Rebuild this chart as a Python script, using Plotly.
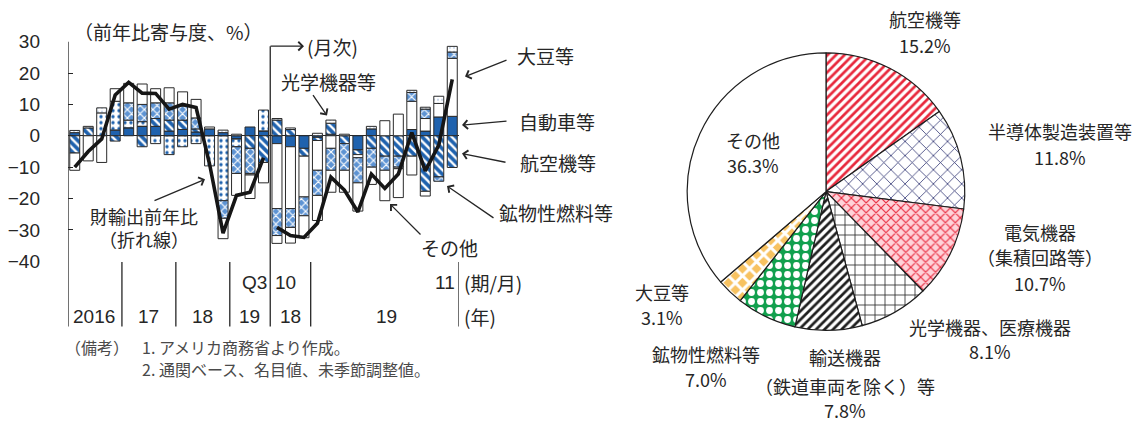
import plotly.graph_objects as go

W, H = 1144, 426


def px(x):
    return x / W


def py(y):
    return 1 - y / H


# ---------------- data: contributions to US goods exports (y/y, %pt) ----------------
periods = ["2016Q1", "2016Q2", "2016Q3", "2016Q4", "2017Q1", "2017Q2", "2017Q3", "2017Q4",
           "2018Q1", "2018Q2", "2018Q3", "2018Q4", "2019Q1", "2019Q2", "2019Q3",
           "2018-10", "2018-11", "2018-12", "2019-01", "2019-02", "2019-03", "2019-04",
           "2019-05", "2019-06", "2019-07", "2019-08", "2019-09", "2019-10", "2019-11"]
n_quarters = 15

autos = [1.0, 0, 0, 1.8, 2.5, 3.0, 3.0, 1.5, 2.0, 1.2, 2.2, 1.0, -1.0, 2.8, 1.5,
         -2.5, -3.5, -4.0, -0.5, 0.5, 0, -4.5, 2.2, 0, 0, 2.0, 1.5, 6.0, 6.2]
aircraft = [-5.5, 2.5, 0, -1.7, 0, -3.5, 2.5, 3.5, 3.0, 1.0, 0, 0, 0, -4.0, -8.5,
            5.0, 2.0, -2.5, -1.0, 3.5, -2.5, -1.5, -4.0, -6.5, -6.5, -6.5, -17.7, -13.1, -10.1]
soybeans = [0, 0, 7.3, 9.2, 2.5, 1.5, -2.5, -6.0, -3.5, -2.5, -9.6, -20.7, -2.5, 0, 6.7,
            -20.7, -19.7, -13.0, -9.5, -4.0, 0, -1.0, 0, 4.8, 6.9, 9.0, 4.0, 4.3, 18.5]
fuels = [0, 0, 0, 0, 5.5, 5.5, 5.0, 5.5, 4.5, 3.5, 0, -5.6, -8.5, -8.0, 0,
         -8.6, -6.0, -6.0, -8.0, -7.0, -8.5, -8.0, -6.0, -4.5, -3.5, 2.8, 3.0, -1.4, 2.0]
optical = [0.7, 0.5, 1.6, 0, 0, 0, 0, 0, 0, 0, 0, 0.8, 0.5, -0.5, 0,
           0.5, 0.5, 0, 0.8, 1.0, 0.5, 0, 0.8, 0, -0.5, 0.7, 0.6, 2.3, 1.8]
others = [-5.5, -8.0, -8.5, 4.0, 6.2, 6.5, 4.5, 4.8, 4.5, 5.9, 0.6, -6.5, -7.0, -7.5, -6.5,
          -2.5, -5.0, -7.0, -8.0, -7.0, -7.0, -9.0, -5.5, -9.7, -9.2, -6.0, -1.5, 0, 0]
export_yoy = [-10, -5, -1, 13, 17, 13.6, 13.5, 8.5, 10, 9, -9, -31, -19, -18, -7,
              -29.2, -31.8, -32.4, -27.9, -13.2, -17.3, -24.3, -12.2, -16.8, -12.2, 1, -11.2, -3, 18]

period_labels = ["Q3", "10", "11"]
year_labels = ["2016", "17", "18", "19", "18", "19"]

# ---------------- data: composition of exports (%) ----------------
pie_labels = ["航空機等", "半導体製造装置等", "電気機器（集積回路等）", "光学機器、医療機器",
              "輸送機器（鉄道車両を除く）等", "鉱物性燃料等", "大豆等", "その他"]
pie_shares = [15.2, 11.8, 10.7, 8.1, 7.8, 7.0, 3.1, 36.3]

# ---------------- styles ----------------
BLUE = "#1f62ae"
INK = "#262626"
JP = "Noto Sans CJK JP"
NUM = "Liberation Sans, Arial, sans-serif"
xs = list(range(len(periods)))


def nz(vals):
    return [v if v != 0 else None for v in vals]


def stacked(name, vals, color, shape="", fg=None, bg=None, size=6, solidity=0.3):
    pattern = dict(shape=shape, size=size, solidity=solidity, fillmode="replace")
    if fg is not None:
        pattern["fgcolor"] = fg
    if bg is not None:
        pattern["bgcolor"] = bg
    return go.Bar(x=xs, y=nz(vals), name=name, width=0.74,
                  marker=dict(color=color, line=dict(color="#2a2a2a", width=1), pattern=pattern),
                  hovertemplate=name + ": %{y}<extra></extra>")


fig = go.Figure()
fig.add_trace(stacked("自動車等", autos, BLUE))
fig.add_trace(stacked("航空機等", aircraft, BLUE, "\\", "#ffffff", BLUE, 6, 0.4))
# soybeans: dotted blue in the quarterly block, plain white in the monthly block
soy_color = [BLUE if i < n_quarters else "#ffffff" for i in xs]
soy_shape = ["." if i < n_quarters else "" for i in xs]
fig.add_trace(go.Bar(x=xs, y=nz(soybeans), name="大豆等", width=0.74,
                     marker=dict(color=soy_color, line=dict(color="#2a2a2a", width=1),
                                 pattern=dict(shape=soy_shape, fgcolor="#ffffff", bgcolor=BLUE,
                                              size=6, solidity=0.25, fillmode="replace")),
                     hovertemplate="大豆等: %{y}<extra></extra>"))
fig.add_trace(stacked("鉱物性燃料等", fuels, "#7aa6dc", "x", "#ffffff", "#5d93d3", 6, 0.35))
fig.add_trace(stacked("光学機器等", optical, "#ffffff", ".", "#9ab4d6", "#ffffff", 4, 0.15))
fig.add_trace(stacked("その他", others, "#ffffff"))

# total exports y/y (line), quarterly and monthly segments drawn separately
fig.add_trace(go.Scatter(x=xs[:n_quarters], y=export_yoy[:n_quarters], mode="lines",
                         line=dict(color="#161616", width=3.6), name="財輸出前年比"))
fig.add_trace(go.Scatter(x=xs[n_quarters:], y=export_yoy[n_quarters:], mode="lines",
                         line=dict(color="#161616", width=3.6), name="財輸出前年比（月次）"))

# ---------------- pie ----------------
cx, cy, r = 826, 191, 146
fig.add_trace(go.Pie(
    labels=pie_labels, values=pie_shares, sort=False, direction="clockwise", rotation=0,
    textinfo="none", hoverinfo="label+percent",
    domain=dict(x=[px(cx - r), px(cx + r)], y=[py(cy + r), py(cy - r)]),
    marker=dict(
        colors=["#ffffff"] * 8,
        line=dict(color="#1e1e1e", width=1.2),
        pattern=dict(
            shape=["/", "x", "x", "+", "/", ".", "x", ""],
            fgcolor=["#e8283c", "#2c3170", "#e8283c", "#1e1e1e", "#1e1e1e", "#ffffff", "#ffffff", "#ffffff"],
            bgcolor=["#ffffff", "#ffffff", "#ffd3da", "#ffffff", "#ffffff", "#12a04e", "#f7c261", "#ffffff"],
            size=[6, 10, 7, 10, 6, 9, 10, 8],
            solidity=[0.45, 0.15, 0.3, 0.15, 0.45, 0.45, 0.5, 0.1],
            fillmode="replace",
        ),
    ),
))

fig.update_layout(
    width=W, height=H, margin=dict(l=0, r=0, t=0, b=0),
    paper_bgcolor="white", plot_bgcolor="rgba(0,0,0,0)",
    barmode="relative", showlegend=False,
    font=dict(family=JP, color=INK),
    xaxis=dict(domain=[px(68), px(459)], range=[-0.5, 28.5], showticklabels=False,
               showgrid=False, zeroline=False, showline=False, ticks="", fixedrange=True),
    yaxis=dict(domain=[py(264.3), py(33.3)], range=[-40, 30], dtick=10, tick0=0,
               ticks="inside", ticklen=5, tickwidth=1.2, tickcolor=INK,
               showgrid=False, showline=False, zeroline=True, zerolinecolor=INK, zerolinewidth=1.2,
               tickfont=dict(family=NUM, size=19, color=INK), ticklabelstandoff=27, fixedrange=True),
)

# ---------------- axis frame and group separators ----------------
line_style = dict(color=INK, width=1.3)
shapes = [dict(type="line", xref="x", yref="paper", x0=-0.5, x1=-0.5, y0=py(33.3), y1=py(333), line=line_style),
          dict(type="line", xref="x", yref="paper", x0=14.5, x1=14.5, y0=py(38), y1=py(333), line=line_style)]
for sep in [3.5, 7.5, 11.5, 17.5, 28.5]:
    shapes.append(dict(type="line", xref="x", yref="paper", x0=sep, x1=sep,
                       y0=py(265), y1=py(333), line=line_style))
fig.update_layout(shapes=shapes)

ann = []


def text(x, y, s, size=19, anchor="center", xref="paper", family=JP, color=INK, align="center"):
    ann.append(dict(x=x, y=py(y), xref=xref, yref="paper", text=s, showarrow=False, align=align,
                    xanchor=anchor, yanchor="middle", font=dict(family=family, size=size, color=color)))


def arrow(x_head, y_head, x_tail, y_tail, width=1.3):
    ann.append(dict(x=px(x_head), y=py(y_head), xref="paper", yref="paper", text="",
                    showarrow=True, arrowhead=4, arrowsize=1.3, arrowwidth=width, arrowcolor=INK,
                    ax=x_tail - x_head, ay=y_tail - y_head, standoff=0))


# titles and call-outs of the bar chart
text(px(72), 23, "（前年比寄与度、%）", anchor="left")
arrow(304, 38, 269, 38)
text(px(305), 38, "(月次)", anchor="left")
text(px(328), 75, "光学機器等")
arrow(327, 111, 312, 89)
text(px(515), 48, "大豆等", anchor="left")
arrow(465, 70, 508, 53)
text(px(517), 117, "自動車等", anchor="left")
arrow(462, 121, 508, 117)
text(px(518), 160, "航空機等", anchor="left")
arrow(462, 151, 507, 160)
text(px(497), 213, "鉱物性燃料等", anchor="left")
arrow(447, 185, 495, 218)
text(px(449), 250, "その他")
arrow(390, 204, 422, 236)
text(px(144), 229, "財輸出前年比<br>（折れ線）", size=18)
arrow(205, 178, 153, 200)

# category labels
text(14.4, 287, period_labels[0], anchor="right", xref="x", family=NUM)
text(px(273), 287, period_labels[1], anchor="left", family=NUM)
text(px(457), 287, period_labels[2], anchor="right", family=NUM)
text(px(462), 287, "(期/月)", anchor="left")
for lbl, pos in zip(year_labels, [1.43, 5.5, 9.5, 12.98, 16.0, 23.1]):
    text(pos, 322, lbl, xref="x", family=NUM)
text(px(462), 322, "(年)", anchor="left")

# notes
NOTE = "#4a4a4a"
text(px(63), 354, "（備考）", size=16, anchor="left", color=NOTE)
text(px(140), 354, "1. アメリカ商務省より作成。", size=16, anchor="left", color=NOTE)
text(px(140), 378, "2. 通関ベース、名目値、未季節調整値。", size=16, anchor="left", color=NOTE)

# pie labels: name lines and the share taken from the data
pie_label_lines = [["航空機等"], ["半導体製造装置等"], ["電気機器", "（集積回路等）"], ["光学機器、医療機器"],
                   ["輸送機器", "（鉄道車両を除く）等"], ["鉱物性燃料等"], ["大豆等"], ["その他"]]
pie_label_pos = [(925, [9, 37]), (1060, [127, 155]), (1040, [233, 260, 287]), (990, [333, 359]),
                 (845, [365, 395, 421]), (706, [362, 388]), (662, [297, 323]), (753, [137, 163])]
for lines, share, (lx, ys) in zip(pie_label_lines, pie_shares, pie_label_pos):
    for s, yy in zip(lines + [f"{share:.1f}%"], ys):
        text(px(lx), yy, s, size=18)

fig.update_layout(annotations=ann)
fig.write_html("out.html")
